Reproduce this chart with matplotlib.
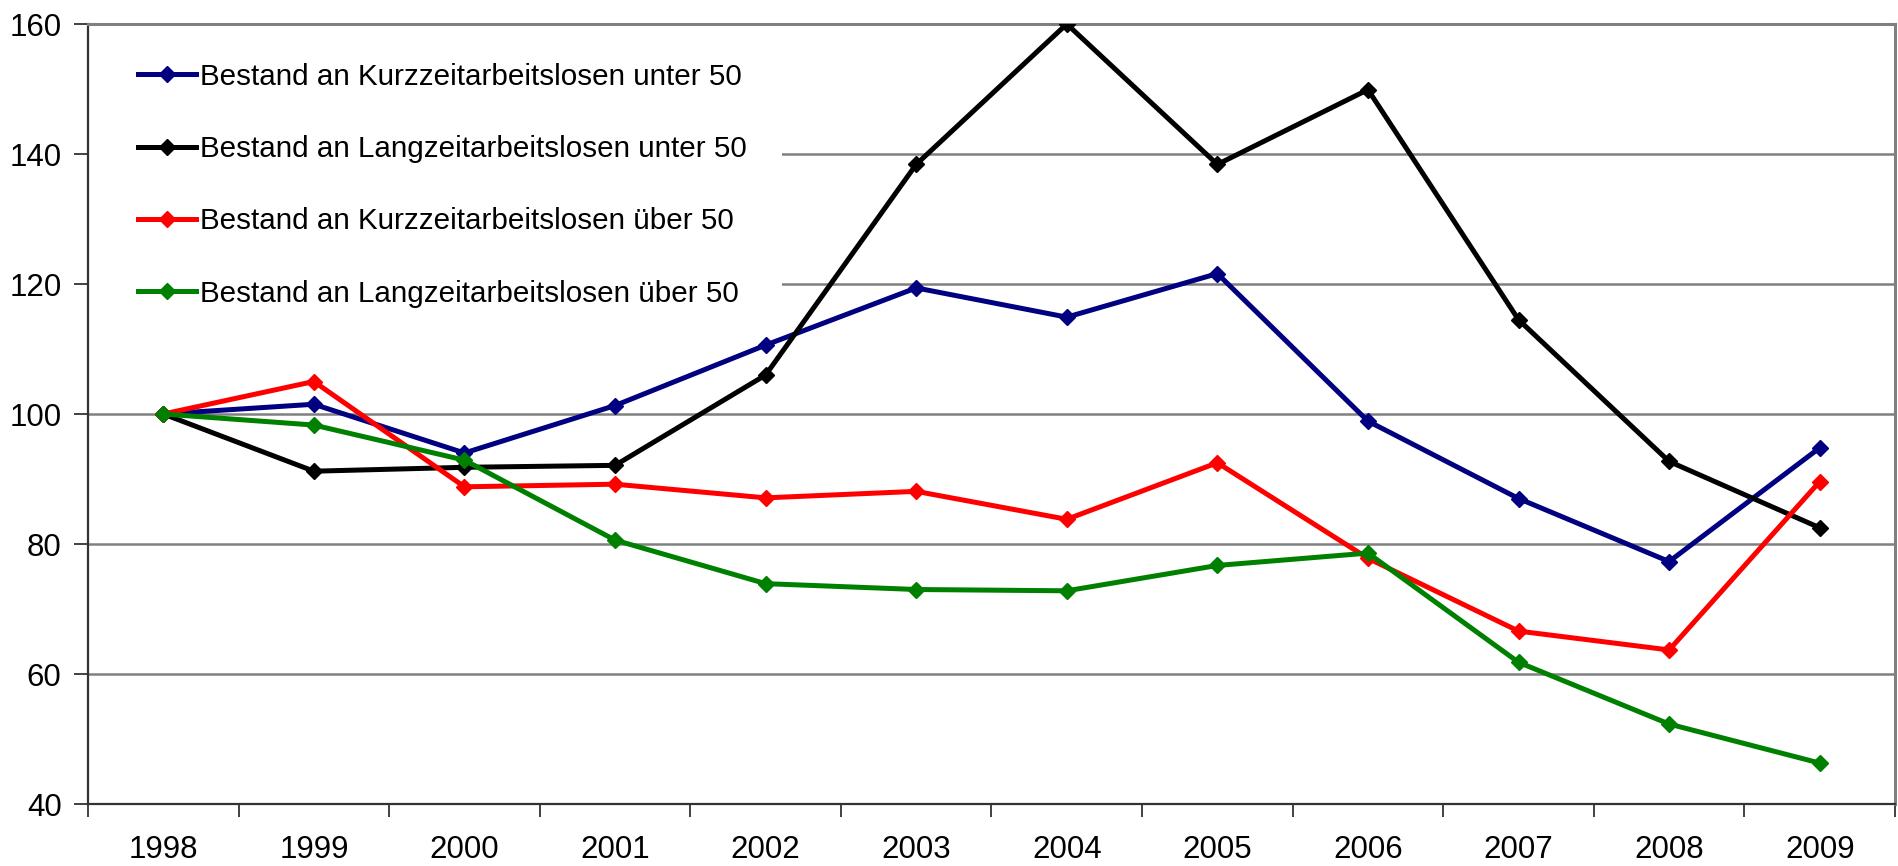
import matplotlib
matplotlib.use("Agg")
import matplotlib.pyplot as plt
from matplotlib.patches import Rectangle

plt.rcParams['font.family'] = ['Liberation Sans', 'DejaVu Sans']

years = ['1998', '1999', '2000', '2001', '2002', '2003', '2004', '2005', '2006', '2007', '2008', '2009']
kurz_unter50 = [100, 101.5, 94.0, 101.3, 110.6, 119.4, 114.9, 121.6, 98.9, 87.0, 77.3, 94.8]
lang_unter50 = [100, 91.2, 91.8, 92.1, 106.0, 138.4, 160.0, 138.4, 149.9, 114.5, 92.7, 82.5]
kurz_ueber50 = [100, 105.0, 88.8, 89.2, 87.1, 88.1, 83.8, 92.5, 77.8, 66.6, 63.7, 89.6]
lang_ueber50 = [100, 98.3, 92.9, 80.6, 73.9, 73.0, 72.8, 76.7, 78.6, 61.8, 52.3, 46.3]

labels = ['Bestand an Kurzzeitarbeitslosen unter 50',
          'Bestand an Langzeitarbeitslosen unter 50',
          'Bestand an Kurzzeitarbeitslosen über 50',
          'Bestand an Langzeitarbeitslosen über 50']
series = [kurz_unter50, lang_unter50, kurz_ueber50, lang_ueber50]
colors = ['#000080', '#000000', '#FF0000', '#008000']

fig = plt.figure(figsize=(18.98, 8.66), dpi=100)
ax = fig.add_axes([88/1898, (866-804)/866, (1895-88)/1898, 780/866])

x = list(range(len(years)))
for s, lab, c in zip(series, labels, colors):
    ax.plot(x, s, color=c, lw=3.6, marker='D', markersize=8.3, label=lab, zorder=3)

ax.set_xlim(-0.5, len(years) - 0.5)
ax.set_ylim(40, 160)
ax.set_yticks(range(40, 161, 20))
ax.set_xticks(x)
ax.set_xticklabels(years)
ax.set_xticks([i - 0.5 for i in range(len(years) + 1)], minor=True)
ax.tick_params(axis='x', which='major', length=0, labelsize=22.5, pad=22)
ax.tick_params(axis='x', which='minor', length=9, width=1.3, direction='out', color='#333333')
ax.tick_params(axis='y', which='major', length=10, width=1.3, direction='out', labelsize=22.5, pad=9, color='#333333')

ax.grid(axis='y', color='#808080', lw=1.8, zorder=1)
ax.set_axisbelow(True)
for side in ['left', 'bottom']:
    ax.spines[side].set_color('#333333')
    ax.spines[side].set_linewidth(1.6)
for side in ['top', 'right']:
    ax.spines[side].set_color('#808080')
    ax.spines[side].set_linewidth(2.2)

# white legend area covering the gridlines
ax.add_patch(Rectangle((0, 0.62), 0.384, 0.35, transform=ax.transAxes,
                       facecolor='white', edgecolor='none', zorder=2))

leg = ax.legend(loc='upper left', bbox_to_anchor=(0.023, 0.962), fontsize=21.3,
                frameon=False, handlelength=1.96, handletextpad=0.12,
                labelspacing=1.5, borderpad=0.3, borderaxespad=0)

fig.savefig('out.png', dpi=100)
